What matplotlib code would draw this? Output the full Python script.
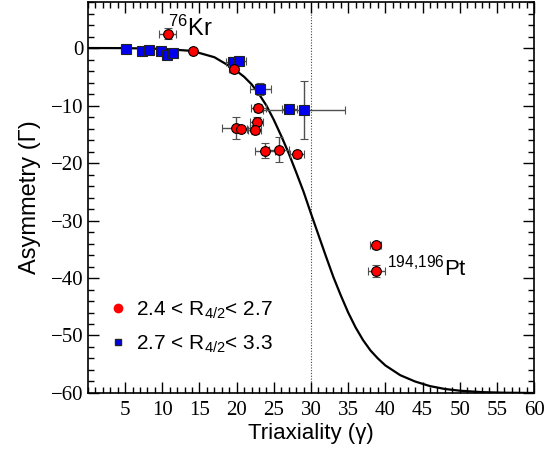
import matplotlib
matplotlib.use("Agg")
import matplotlib.pyplot as plt
from matplotlib.lines import Line2D
from matplotlib.ticker import MultipleLocator, FixedLocator
import numpy as np

plt.rcParams['font.family'] = ['Liberation Sans', 'DejaVu Sans']
plt.rcParams['mathtext.fontset'] = 'custom'
plt.rcParams['mathtext.rm'] = 'Liberation Sans'
plt.rcParams['mathtext.it'] = 'Liberation Sans:italic'

# nuclei with 2.4 < R4/2 < 2.7
red_gamma = [10.7, 14.1, 19.6, 22.9, 22.7, 19.9, 20.6, 22.4, 23.8, 25.7, 28.1, 38.7, 38.8]
red_gamma_err = [1.1, 0.3, 0.6, 1.0, 0.9, 1.9, 0.8, 0.9, 1.4, 1.4, 0.9, 0.7, 1.1]
red_asym = [2.5, -0.6, -3.7, -10.5, -12.8, -13.9, -14.1, -14.2, -17.9, -17.7, -18.5, -34.3, -38.8]
red_asym_err = [0.9, 0.3, 0.6, 0.7, 0.8, 1.9, 0.5, 0.8, 1.3, 2.2, 0.6, 0.6, 1.0]

# nuclei with 2.7 < R4/2 < 3.3
blue_gamma = [5.1, 7.2, 8.2, 9.8, 10.6, 11.5, 19.5, 20.3, 23.2, 27.1, 29.1]
blue_gamma_err = [0.6, 0.5, 0.6, 0.5, 0.6, 0.5, 1.0, 1.0, 1.4, 1.0, 5.5]
blue_asym = [-0.2, -0.6, -0.3, -0.6, -1.2, -0.8, -2.4, -2.3, -7.1, -10.6, -10.75]
blue_asym_err = [0.4, 0.4, 0.4, 0.4, 0.4, 0.4, 0.8, 0.6, 1.1, 0.4, 5.0]

# model curve
curve_gamma = [0, 5, 10, 14, 17, 19.5, 21, 22, 23, 24, 25, 26, 27, 28, 29, 30,
               31, 32, 33, 34, 35, 36, 37, 38, 39, 40, 42, 44, 46, 48, 50, 53, 56, 60]
curve_asym = [0, -0.02, -0.15, -0.5, -1.6, -3.5, -5.0, -6.3, -8.0, -10.0, -12.5,
              -15.3, -18.3, -21.6, -25.0, -28.8, -32.5, -36.2, -39.8, -43.0, -46.0,
              -48.6, -50.8, -52.6, -54.0, -55.2, -56.9, -58.0, -58.8, -59.3, -59.6,
              -59.85, -59.95, -60.0]

fig = plt.figure(figsize=(5.59, 4.59), dpi=100)
ax = fig.add_axes([0.1574, 0.1438, 0.7979, 0.8518])

ax.plot(curve_gamma, curve_asym, color='black', lw=1.6, zorder=2)
ax.axvline(30, color='#444444', lw=0.8, ls=(0, (1, 1.5)), zorder=1)

eb = dict(ecolor='#505050', elinewidth=1.0, capsize=3, capthick=1.0, ls='none')
ax.errorbar(red_gamma, red_asym, xerr=red_gamma_err, yerr=red_asym_err,
            marker='o', ms=7, mfc='red', mec='black', mew=0.8, zorder=4, **eb)
ax.errorbar(blue_gamma, blue_asym, xerr=blue_gamma_err, yerr=blue_asym_err,
            marker='s', ms=6.5, mfc='#0000ee', mec='#222222', mew=0.8, zorder=3, **eb)

ax.text(10.8, 2.1, r'$^{76}$Kr', fontsize=17, ha='left', va='baseline')
ax.text(40.2, -39.5, r'$^{194{,}196}$Pt', fontsize=16, ha='left', va='baseline')

handles = [Line2D([], [], ls='none', marker='o', ms=6, mfc='red', mec='red'),
           Line2D([], [], ls='none', marker='s', ms=5, mfc='#0000ee', mec='#222222')]
ax.legend(handles, [r'2.4 < R$_{4/2}$< 2.7', r'2.7 < R$_{4/2}$< 3.3'],
          loc='lower left', bbox_to_anchor=(-0.01, 0.05), frameon=False,
          fontsize=15, handletextpad=0.1, labelspacing=0.6, handlelength=1.5)

ax.set_xlim(0, 60)
ax.set_ylim(-60, 8)
ax.xaxis.set_major_locator(FixedLocator(np.arange(5, 61, 5)))
ax.xaxis.set_minor_locator(MultipleLocator(1))
ax.yaxis.set_major_locator(FixedLocator(np.arange(-60, 1, 10)))
ax.yaxis.set_minor_locator(MultipleLocator(2))
ax.tick_params(which='both', direction='in', top=True, right=True, width=1.0)
ax.tick_params(which='major', length=8)
ax.tick_params(which='minor', length=4)
for lab in ax.get_xticklabels() + ax.get_yticklabels():
    lab.set_fontfamily('Liberation Serif')
    lab.set_fontsize(15)
ax.tick_params(axis='x', pad=6)
ax.tick_params(axis='y', pad=3)
for s in ax.spines.values():
    s.set_linewidth(1.2)

ax.set_xlabel('Triaxiality (γ)', fontsize=16, labelpad=2)
ax.set_ylabel('Asymmetry (Γ)', fontsize=17, labelpad=7)

fig.savefig('out.png', dpi=100)
